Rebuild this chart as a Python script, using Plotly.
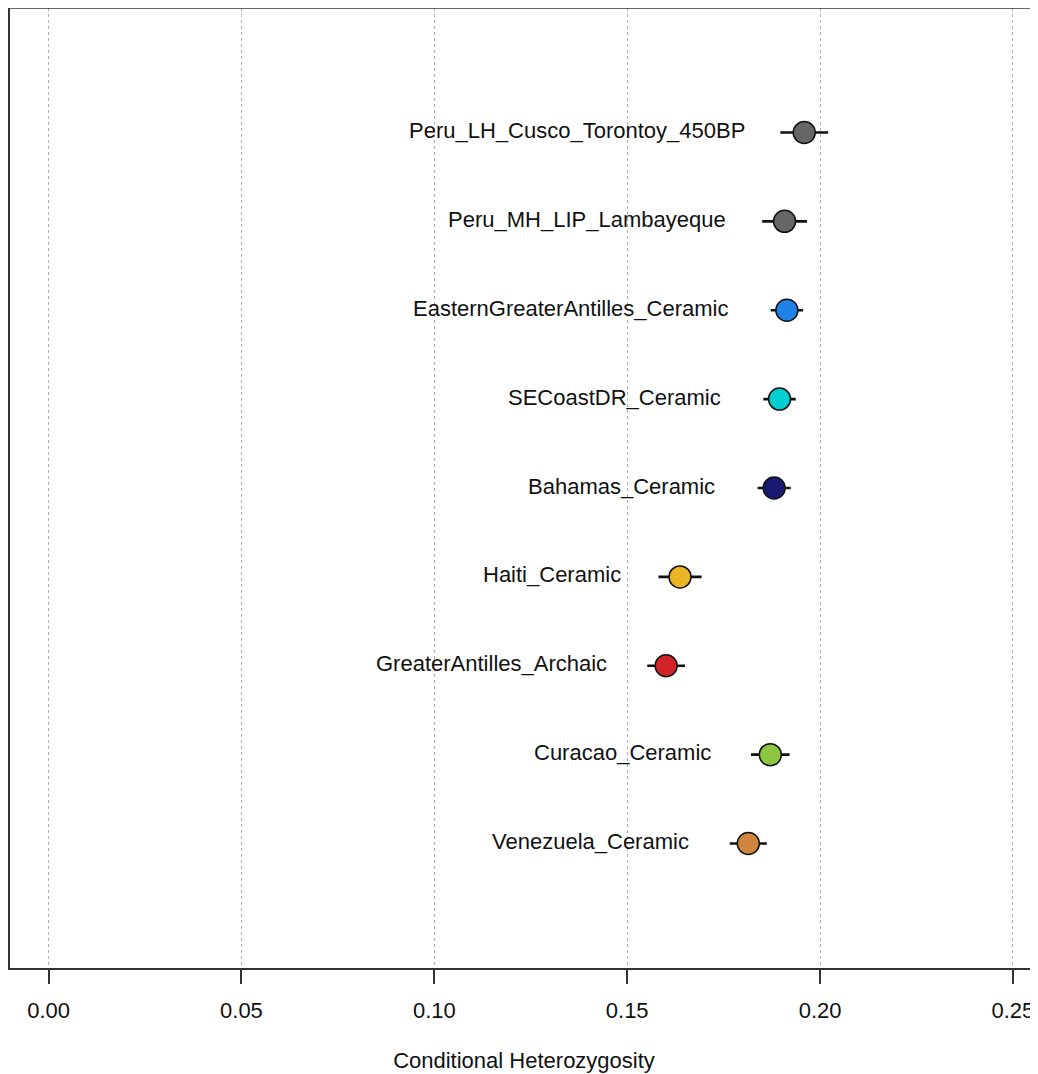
import plotly.graph_objects as go

populations = [
    "Venezuela_Ceramic",
    "Curacao_Ceramic",
    "GreaterAntilles_Archaic",
    "Haiti_Ceramic",
    "Bahamas_Ceramic",
    "SECoastDR_Ceramic",
    "EasternGreaterAntilles_Ceramic",
    "Peru_MH_LIP_Lambayeque",
    "Peru_LH_Cusco_Torontoy_450BP",
]
heterozygosity = [0.1814, 0.1871, 0.1601, 0.1637, 0.1881, 0.1895, 0.1914, 0.1908, 0.1959]
std_error = [0.0048, 0.0050, 0.0049, 0.0056, 0.0043, 0.0042, 0.0042, 0.0058, 0.0062]
colors = ["#CD853F", "#8DC63F", "#D02428", "#EBB424", "#191970", "#00CED1", "#1E82E8", "#666666", "#666666"]
positions = list(range(1, len(populations) + 1))
tick_vals = [0.0, 0.05, 0.10, 0.15, 0.20, 0.25]
tick_text = ["0.00", "0.05", "0.10", "0.15", "0.20", "0.25"]

FONT = "Liberation Sans, Arial, Helvetica, sans-serif"

fig = go.Figure()
fig.add_trace(go.Scatter(
    x=heterozygosity,
    y=positions,
    mode="markers",
    error_x=dict(type="data", array=std_error, visible=True, color="#111111", thickness=2.6, width=0),
    marker=dict(size=22, color=colors, line=dict(color="#111111", width=1.5)),
    showlegend=False,
    hoverinfo="skip",
))

for name, xv, yv in zip(populations, heterozygosity, positions):
    fig.add_annotation(
        x=xv, y=yv, text=name, showarrow=False,
        xanchor="right", yanchor="middle", xshift=-57, yshift=2,
        font=dict(family=FONT, size=22, color="#111111"),
    )

# top border line
fig.add_shape(type="line", xref="paper", yref="paper", x0=0, x1=1, y0=1, y1=1,
              line=dict(color="#333333", width=1.5))

fig.update_layout(
    width=1030, height=1066,
    margin=dict(l=2, r=0, t=0, b=106),
    paper_bgcolor="white", plot_bgcolor="white",
    font=dict(family=FONT, size=22, color="#111111"),
    xaxis=dict(
        range=[-0.01, 0.2565],
        tickvals=tick_vals, ticktext=tick_text,
        ticks="outside", ticklen=14, tickwidth=1.5, tickcolor="#333333",
        ticklabeloverflow="allow", ticklabelstandoff=8,
        showline=True, linecolor="#333333", linewidth=1.5,
        showgrid=True, gridcolor="#b0b0b0", griddash="dot", gridwidth=1,
        zeroline=False,
        tickfont=dict(family=FONT, size=22, color="#111111"),
        title=dict(text="Conditional Heterozygosity", font=dict(family=FONT, size=22, color="#111111"), standoff=30),
    ),
    yaxis=dict(
        range=[-0.4, 10.4],
        showticklabels=False, ticks="", showgrid=False, zeroline=False,
        showline=True, linecolor="#333333", linewidth=1.5,
    ),
)

fig.write_html(
    "out.html",
    post_script="document.documentElement.style.overflow='hidden';document.body.style.overflow='hidden';",
)
